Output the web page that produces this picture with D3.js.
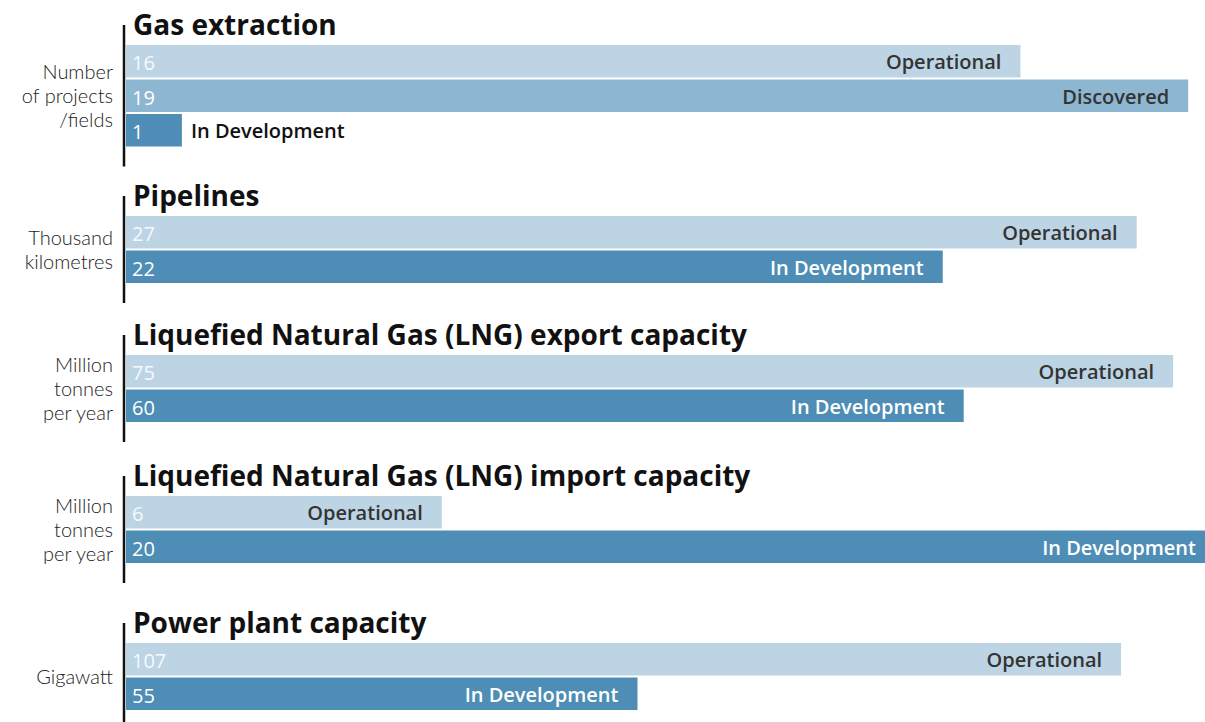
<!DOCTYPE html>
<html>
<head>
<meta charset="utf-8">
<script src="https://cdn.jsdelivr.net/npm/d3@7"></script>
<style>
  body { margin: 0; background: #fff; }
  svg { display: block; font-family: 'Open Sans', 'DejaVu Sans', sans-serif; }
</style>
</head>
<body>
<div id="viz"></div>
<script>
const titles = [
  'Gas extraction',
  'Pipelines',
  'Liquefied Natural Gas (LNG) export capacity',
  'Liquefied Natural Gas (LNG) import capacity',
  'Power plant capacity'
];
const units = [
  ['Number', 'of projects', '/fields'],
  ['Thousand', 'kilometres'],
  ['Million', 'tonnes', 'per year'],
  ['Million', 'tonnes', 'per year'],
  ['Gigawatt']
];
const statuses = [
  ['Operational', 'Discovered', 'In Development'],
  ['Operational', 'In Development'],
  ['Operational', 'In Development'],
  ['Operational', 'In Development'],
  ['Operational', 'In Development']
];
const values = [
  [16, 19, 1],
  [27.1, 21.9],
  [75, 60],
  [5.8, 20],
  [107, 55]
];
// per-panel scale maximum (each panel has its own unit)
const domainMax = [19.48, 29.2, 78, 20, 117.1];

const colors = {
  'Operational': '#bdd4e4',
  'Discovered': '#8db6d1',
  'In Development': '#4e8db5'
};
const labelColors = {
  'Operational': '#333',
  'Discovered': '#333',
  'In Development': '#fff'
};

const W = 1205, H = 722;
const axisX = 124, barX = 126;
const step = 34.5, gap = 2;
const panelTops = [45, 216, 355, 496, 643];

const svg = d3.select('#viz').append('svg')
  .attr('width', W)
  .attr('height', H);

const x = d3.scaleLinear().range([0, 1089]);
const fmt = d3.format('.0f');

titles.forEach((title, p) => {
  const n = values[p].length;
  x.domain([0, domainMax[p]]);
  const y = d3.scaleBand()
    .domain(d3.range(n))
    .range([0, n * step - gap])
    .paddingInner(gap / step);

  const g = svg.append('g')
    .attr('transform', `translate(0,${panelTops[p]})`);

  g.append('line')
    .attr('x1', axisX).attr('x2', axisX)
    .attr('y1', -20).attr('y2', n * step + 18)
    .attr('stroke', '#111')
    .attr('stroke-width', 2.5);

  g.append('text')
    .attr('x', 133)
    .attr('y', -10)
    .attr('font-size', 28)
    .attr('font-weight', 700)
    .attr('fill', '#111')
    .text(title);

  // unit label, one text per line
  const lines = units[p];
  const mid = (n * step - gap) / 2;
  g.selectAll('.unit')
    .data(lines)
    .join('text')
    .attr('class', 'unit')
    .attr('x', 113)
    .attr('y', (d, i) => mid + (i - (lines.length - 1) / 2) * 24)
    .attr('dy', '0.35em')
    .attr('text-anchor', 'end')
    .style('font-family', 'Lato, sans-serif')
    .attr('font-size', 20)
    .attr('font-weight', 300)
    .attr('fill', '#222')
    .text(d => d);

  const rows = g.selectAll('.row')
    .data(values[p].map((v, i) => ({ v, s: statuses[p][i], i })))
    .join('g')
    .attr('class', 'row')
    .attr('transform', d => `translate(${barX},${y(d.i)})`);

  rows.append('rect')
    .attr('width', d => x(d.v))
    .attr('height', y.bandwidth())
    .attr('fill', d => colors[d.s]);

  rows.append('text')
    .attr('x', 6)
    .attr('y', y.bandwidth() / 2 + 2)
    .attr('dy', '0.35em')
    .attr('font-size', 20)
    .attr('fill', '#fff')
    .attr('fill-opacity', d => d.s === 'Operational' ? 0.9 : 1)
    .text(d => fmt(d.v));

  rows.append('text')
    .attr('y', y.bandwidth() / 2 + 1)
    .attr('dy', '0.35em')
    .attr('font-size', 20)
    .attr('font-weight', 600)
    .text(d => d.s)
    .each(function (d) {
      const t = d3.select(this);
      const len = this.getComputedTextLength();
      const w = x(d.v);
      if (w - 19 - len > 40) {
        t.attr('x', w - 19).attr('text-anchor', 'end').attr('fill', labelColors[d.s]);
      } else {
        t.attr('x', w + 9).attr('text-anchor', 'start').attr('fill', '#111');
      }
    });
});
</script>
</body>
</html>
